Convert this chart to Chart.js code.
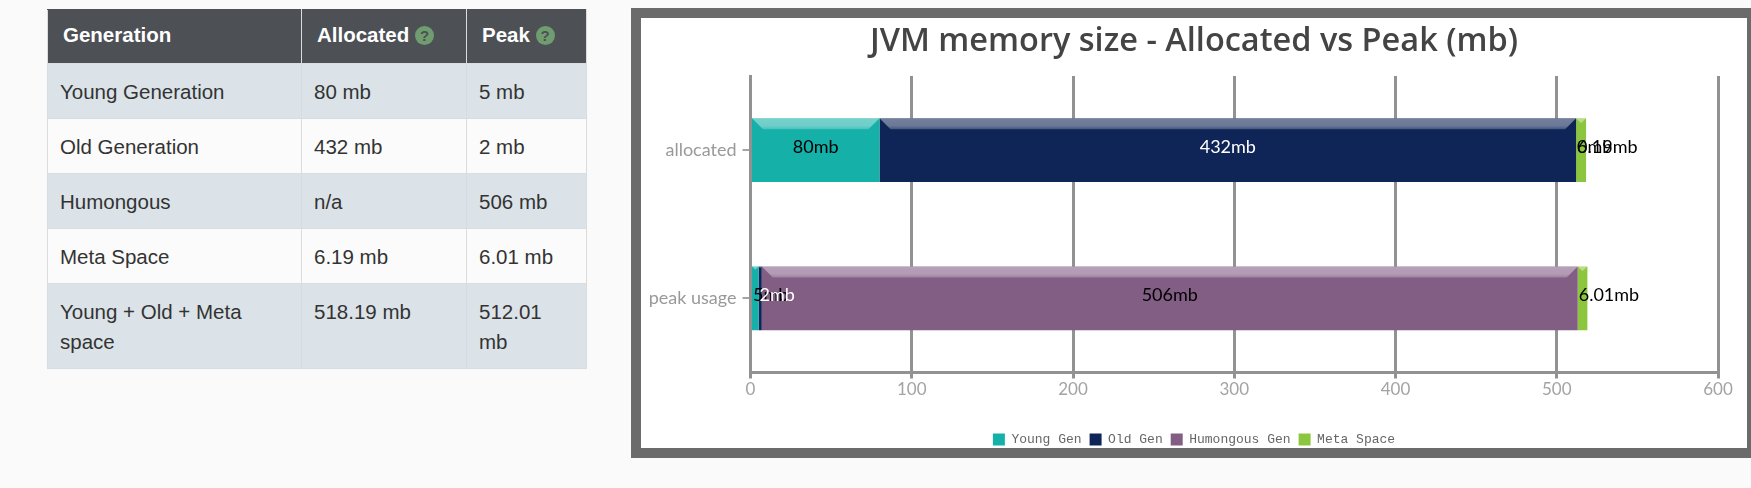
<!DOCTYPE html>
<html>
<head>
<meta charset="utf-8">
<title>JVM memory size</title>
<script src="https://cdn.jsdelivr.net/npm/chart.js@4"></script>
<style>
html, body { margin: 0; padding: 0; background: #fafafa; overflow: hidden; }
body { width: 1751px; height: 488px; position: relative; font-family: "Liberation Sans", sans-serif; }
table { position: absolute; left: 47px; top: 9px; width: 539px; border-collapse: collapse; table-layout: fixed; font-size: 20.5px; color: #333; }
th, td { text-align: left; vertical-align: top; border: 1px solid #dcdcdc; padding: 13px 12px 11px; line-height: 30px; }
th { background: #4d5055; color: #fff; height: 54px; box-sizing: border-box; padding: 0 0 0 15px; line-height: 50px; font-size: 20.5px; font-weight: bold; border-top-color: #4d5055; }
tr.odd td { background: #dbe3e8; border-color: #d5dde2; }
tr.even td { background: #fbfbfb; }
.help { display: inline-block; width: 19px; height: 19px; border-radius: 50%; background: #6f9d6f; color: #4d5055; font-size: 15px; line-height: 19px; text-align: center; vertical-align: 1px; }
#frame { position: absolute; left: 631px; top: 8px; width: 1106px; height: 430px; border: 10px solid #6b6b6b; background: #fff; }
canvas { display: block; }
</style>
</head>
<body>
<table>
  <colgroup><col style="width:254px"><col style="width:165px"><col style="width:120px"></colgroup>
  <tr><th>Generation</th><th>Allocated <span class="help">?</span></th><th>Peak <span class="help">?</span></th></tr>
  <tr class="odd"><td>Young Generation</td><td>80 mb</td><td>5 mb</td></tr>
  <tr class="even"><td>Old Generation</td><td>432 mb</td><td>2 mb</td></tr>
  <tr class="odd"><td>Humongous</td><td>n/a</td><td>506 mb</td></tr>
  <tr class="even"><td>Meta Space</td><td>6.19 mb</td><td>6.01 mb</td></tr>
  <tr class="odd"><td>Young + Old + Meta space</td><td>518.19 mb</td><td>512.01 mb</td></tr>
</table>
<div id="frame"><canvas id="chartMemoria" width="1106" height="430"></canvas></div>
<script>
// dados do grafico
var categories = ['allocated', 'peak usage'];
var youngGen = [80, 5];
var oldGen = [432, 2];
var humongousGen = [0, 506];
var metaSpace = [6.19, 6.01];
var xTicks = [0, 100, 200, 300, 400, 500, 600];

var ctx = document.getElementById('chartMemoria').getContext('2d');

var labelFont = '18px Lato';
var gridColor = '#929292';

// faixa clara em cima de cada barra e os textos "80mb" etc
var barLabels = {
    id: 'barLabels',
    // o eixo y fica estreito por causa do padding, abre o recorte dos rotulos
    afterLayout: function (chart) {
        chart.scales.y.left = 0;
    },
    afterDatasetsDraw: function (chart) {
        var c = chart.ctx;
        chart.data.datasets.forEach(function (ds, i) {
            chart.getDatasetMeta(i).data.forEach(function (bar) {
                var left = bar.base;
                var right = bar.x;
                var w = right - left;
                if (w < 1) return;
                var top = bar.y - bar.height / 2;
                var bevel = Math.min(11, w / 2);
                c.save();
                var grad = c.createLinearGradient(0, top, 0, top + bevel);
                grad.addColorStop(0, 'rgba(255,255,255,0.42)');
                grad.addColorStop(0.7, 'rgba(255,255,255,0.38)');
                grad.addColorStop(1, 'rgba(255,255,255,0.22)');
                c.fillStyle = grad;
                c.beginPath();
                c.moveTo(left, top);
                c.lineTo(right, top);
                c.lineTo(right - bevel, top + bevel);
                c.lineTo(left + bevel, top + bevel);
                c.closePath();
                c.fill();
                c.restore();
            });
        });
        chart.data.datasets.forEach(function (ds, i) {
            chart.getDatasetMeta(i).data.forEach(function (bar, j) {
                var txt = ds.data[j] + 'mb';
                var left = bar.base;
                var w = bar.x - left;
                c.save();
                c.font = labelFont;
                c.fillStyle = ds.labelColor;
                c.textBaseline = 'middle';
                var tw = c.measureText(txt).width;
                // se nao cabe, comeca no inicio da barra
                var tx = tw < w ? left + (w - tw) / 2 : left + 1;
                c.fillText(txt, tx, bar.y - 3);
                c.restore();
            });
        });
    }
};

var data = {
    labels: categories,
    datasets: [
        { label: 'Young Gen', data: youngGen, backgroundColor: '#15b0a8', labelColor: '#000' },
        { label: 'Old Gen', data: oldGen, backgroundColor: '#0f2557', labelColor: '#fff' },
        { label: 'Humongous Gen', data: humongousGen, backgroundColor: '#825d84', labelColor: '#000' },
        { label: 'Meta Space', data: metaSpace, backgroundColor: '#8cc63f', labelColor: '#000' }
    ]
};

var options = {
    indexAxis: 'y',
    responsive: false,
    animation: false,
    layout: { padding: { left: 29, right: 29, top: 0, bottom: -8 } },
    datasets: { bar: { categoryPercentage: 0.431, barPercentage: 1 } },
    scales: {
        x: {
            type: 'linear',
            stacked: true,
            min: xTicks[0],
            max: xTicks[xTicks.length - 1],
            ticks: { stepSize: 100, color: '#a3a3a3', font: { family: 'Lato', size: 17 }, padding: 1, maxRotation: 0 },
            grid: { color: gridColor, lineWidth: 3, tickLength: 6 },
            border: { display: true, color: gridColor, width: 3 },
            afterFit: function (axis) { axis.height = 52.5; }
        },
        y: {
            stacked: true,
            ticks: { color: '#999', font: { family: 'Lato', size: 18 }, padding: 6 },
            grid: { color: '#a5a5a5', lineWidth: 2, tickLength: 8, drawOnChartArea: false, offset: false },
            border: { display: true, color: gridColor, width: 3 },
            afterFit: function (axis) { axis.width = 80.5; }
        }
    },
    plugins: {
        title: {
            display: true,
            text: 'JVM memory size - Allocated vs Peak (mb)',
            color: '#444',
            font: { family: 'Open Sans', size: 32.5, weight: '600' },
            padding: { top: 4, bottom: 15 }
        },
        legend: {
            position: 'bottom',
            labels: {
                boxWidth: 12,
                boxHeight: 12,
                color: '#666',
                font: { family: 'Liberation Mono', size: 13 },
                padding: 8
            }
        },
        tooltip: { enabled: false }
    }
};

var myChart = new Chart(ctx, {
    type: 'bar',
    data: data,
    options: options,
    plugins: [barLabels]
});
</script>
</body>
</html>
